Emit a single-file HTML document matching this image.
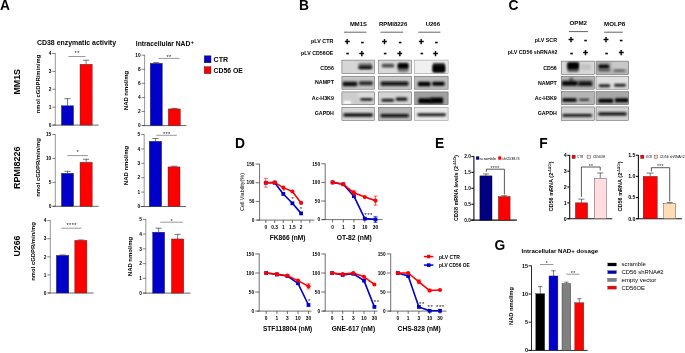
<!DOCTYPE html><html><head><meta charset="utf-8"><title>Figure</title>
<style>html,body{margin:0;padding:0;background:#fff}svg{display:block;filter:blur(0.2px)}text{font-family:'Liberation Sans', Arial, sans-serif}</style></head><body>
<svg width="685" height="353" viewBox="0 0 685 353">
<defs><filter id="b1" x="-20%" y="-50%" width="140%" height="200%"><feGaussianBlur stdDeviation="0.9 0.8"/></filter><filter id="b2" x="-20%" y="-50%" width="140%" height="200%"><feGaussianBlur stdDeviation="1.3 1.1"/></filter></defs>
<rect width="685" height="353" fill="#fff"/>
<text x="0.00" y="9.60" font-size="13.8" text-anchor="start" fill="#000" font-weight="bold" >A</text>
<text x="298.90" y="9.70" font-size="13.8" text-anchor="start" fill="#000" font-weight="bold" >B</text>
<text x="508.40" y="9.80" font-size="13.8" text-anchor="start" fill="#000" font-weight="bold" >C</text>
<text x="234.90" y="147.90" font-size="13.8" text-anchor="start" fill="#000" font-weight="bold" >D</text>
<text x="435.00" y="147.90" font-size="13.8" text-anchor="start" fill="#000" font-weight="bold" >E</text>
<text x="539.30" y="147.90" font-size="13.8" text-anchor="start" fill="#000" font-weight="bold" >F</text>
<text x="494.40" y="249.80" font-size="13.8" text-anchor="start" fill="#000" font-weight="bold" >G</text>
<text x="37.00" y="45.20" font-size="7" text-anchor="start" fill="#000" font-weight="bold" textLength="79.00" lengthAdjust="spacingAndGlyphs" >CD38 enzymatic activity</text>
<text x="135.80" y="46.10" font-size="7" text-anchor="start" fill="#000" font-weight="bold" textLength="54.50" lengthAdjust="spacingAndGlyphs" >Intracellular NAD</text>
<text x="190.60" y="43.60" font-size="6" text-anchor="start" fill="#000" font-weight="bold" >+</text>
<rect x="204.20" y="55.80" width="6.80" height="7.00" fill="#0000c8" stroke="#222" stroke-width="0.4" />
<rect x="204.20" y="66.70" width="6.80" height="7.00" fill="#ff0000" stroke="#222" stroke-width="0.4" />
<text x="213.60" y="62.20" font-size="7" text-anchor="start" fill="#000" font-weight="bold" textLength="14.60" lengthAdjust="spacingAndGlyphs" >CTR</text>
<text x="213.60" y="72.90" font-size="7" text-anchor="start" fill="#000" font-weight="bold" textLength="29.20" lengthAdjust="spacingAndGlyphs" >CD56 OE</text>
<text x="20.10" y="81.80" font-size="9.1" text-anchor="middle" fill="#000" font-weight="bold" textLength="25.60" lengthAdjust="spacingAndGlyphs" transform="rotate(-90 20.10 81.80)" >MM1S</text>
<text x="20.30" y="167.80" font-size="9.1" text-anchor="middle" fill="#000" font-weight="bold" textLength="42.40" lengthAdjust="spacingAndGlyphs" transform="rotate(-90 20.30 167.80)" >RPMI8226</text>
<text x="20.30" y="246.00" font-size="9.1" text-anchor="middle" fill="#000" font-weight="bold" textLength="21.00" lengthAdjust="spacingAndGlyphs" transform="rotate(-90 20.30 246.00)" >U266</text>
<text x="39.90" y="84.00" font-size="6.2" text-anchor="middle" fill="#000" font-weight="bold" textLength="58.50" lengthAdjust="spacingAndGlyphs" transform="rotate(-90 39.90 84.00)" >nmol cGDPR/min/mg</text>
<text x="39.90" y="167.50" font-size="6.2" text-anchor="middle" fill="#000" font-weight="bold" textLength="58.50" lengthAdjust="spacingAndGlyphs" transform="rotate(-90 39.90 167.50)" >nmol cGDPR/min/mg</text>
<text x="35.10" y="251.50" font-size="6.2" text-anchor="middle" fill="#000" font-weight="bold" textLength="58.50" lengthAdjust="spacingAndGlyphs" transform="rotate(-90 35.10 251.50)" >nmol cGDPR/min/mg</text>
<text x="127.50" y="90.50" font-size="6.2" text-anchor="middle" fill="#000" font-weight="bold" textLength="39.30" lengthAdjust="spacingAndGlyphs" transform="rotate(-90 127.50 90.50)" >NAD nmol/mg</text>
<text x="127.90" y="165.50" font-size="6.2" text-anchor="middle" fill="#000" font-weight="bold" textLength="39.30" lengthAdjust="spacingAndGlyphs" transform="rotate(-90 127.90 165.50)" >NAD nmol/mg</text>
<text x="131.80" y="256.50" font-size="6.2" text-anchor="middle" fill="#000" font-weight="bold" textLength="39.30" lengthAdjust="spacingAndGlyphs" transform="rotate(-90 131.80 256.50)" >NAD nmol/mg</text>
<line x1="55.30" y1="53.20" x2="55.30" y2="125.40" stroke="#8a8a8a" stroke-width="0.9"/>
<line x1="52.70" y1="125.10" x2="98.60" y2="125.10" stroke="#555" stroke-width="0.9"/>
<line x1="52.30" y1="125.10" x2="55.30" y2="125.10" stroke="#333" stroke-width="0.6"/>
<text x="51.30" y="126.83" font-size="4.8" text-anchor="end" fill="#000" font-weight="bold" >0</text>
<line x1="52.30" y1="107.20" x2="55.30" y2="107.20" stroke="#333" stroke-width="0.6"/>
<text x="51.30" y="108.93" font-size="4.8" text-anchor="end" fill="#000" font-weight="bold" >1</text>
<line x1="52.30" y1="89.30" x2="55.30" y2="89.30" stroke="#333" stroke-width="0.6"/>
<text x="51.30" y="91.03" font-size="4.8" text-anchor="end" fill="#000" font-weight="bold" >2</text>
<line x1="52.30" y1="71.40" x2="55.30" y2="71.40" stroke="#333" stroke-width="0.6"/>
<text x="51.30" y="73.13" font-size="4.8" text-anchor="end" fill="#000" font-weight="bold" >3</text>
<line x1="52.30" y1="53.50" x2="55.30" y2="53.50" stroke="#333" stroke-width="0.6"/>
<text x="51.30" y="55.23" font-size="4.8" text-anchor="end" fill="#000" font-weight="bold" >4</text>
<line x1="67.50" y1="105.77" x2="67.50" y2="98.67" stroke="#222" stroke-width="0.6"/>
<line x1="64.45" y1="98.67" x2="70.55" y2="98.67" stroke="#222" stroke-width="0.6"/>
<rect x="61.40" y="105.77" width="12.20" height="19.33" fill="#0000c8" stroke="#333" stroke-width="0.4" />
<line x1="86.10" y1="64.24" x2="86.10" y2="60.24" stroke="#222" stroke-width="0.6"/>
<line x1="83.05" y1="60.24" x2="89.15" y2="60.24" stroke="#222" stroke-width="0.6"/>
<rect x="80.00" y="64.24" width="12.20" height="60.86" fill="#ff0000" stroke="#333" stroke-width="0.4" />
<line x1="68.40" y1="56.50" x2="85.50" y2="56.50" stroke="#333" stroke-width="0.5"/>
<text x="77.15" y="54.60" font-size="5.6" text-anchor="middle" fill="#111" letter-spacing="0.4">**</text>
<line x1="55.30" y1="134.22" x2="55.30" y2="206.60" stroke="#8a8a8a" stroke-width="0.9"/>
<line x1="52.70" y1="206.30" x2="98.60" y2="206.30" stroke="#555" stroke-width="0.9"/>
<line x1="52.30" y1="206.30" x2="55.30" y2="206.30" stroke="#333" stroke-width="0.6"/>
<text x="51.30" y="208.03" font-size="4.8" text-anchor="end" fill="#000" font-weight="bold" >0</text>
<line x1="52.30" y1="182.38" x2="55.30" y2="182.38" stroke="#333" stroke-width="0.6"/>
<text x="51.30" y="184.10" font-size="4.8" text-anchor="end" fill="#000" font-weight="bold" >5</text>
<line x1="52.30" y1="158.45" x2="55.30" y2="158.45" stroke="#333" stroke-width="0.6"/>
<text x="51.30" y="160.18" font-size="4.8" text-anchor="end" fill="#000" font-weight="bold" >10</text>
<line x1="52.30" y1="134.53" x2="55.30" y2="134.53" stroke="#333" stroke-width="0.6"/>
<text x="51.30" y="136.25" font-size="4.8" text-anchor="end" fill="#000" font-weight="bold" >15</text>
<line x1="67.50" y1="173.28" x2="67.50" y2="171.28" stroke="#222" stroke-width="0.6"/>
<line x1="64.45" y1="171.28" x2="70.55" y2="171.28" stroke="#222" stroke-width="0.6"/>
<rect x="61.40" y="173.28" width="12.20" height="33.02" fill="#0000c8" stroke="#333" stroke-width="0.4" />
<line x1="86.10" y1="162.28" x2="86.10" y2="159.28" stroke="#222" stroke-width="0.6"/>
<line x1="83.05" y1="159.28" x2="89.15" y2="159.28" stroke="#222" stroke-width="0.6"/>
<rect x="80.00" y="162.28" width="12.20" height="44.02" fill="#ff0000" stroke="#333" stroke-width="0.4" />
<line x1="67.40" y1="155.60" x2="88.00" y2="155.60" stroke="#333" stroke-width="0.5"/>
<text x="77.90" y="153.70" font-size="5.6" text-anchor="middle" fill="#111" letter-spacing="0.4">*</text>
<line x1="50.30" y1="220.30" x2="50.30" y2="293.30" stroke="#8a8a8a" stroke-width="0.9"/>
<line x1="47.90" y1="293.00" x2="93.60" y2="293.00" stroke="#555" stroke-width="0.9"/>
<line x1="47.30" y1="293.00" x2="50.30" y2="293.00" stroke="#333" stroke-width="0.6"/>
<text x="46.30" y="294.73" font-size="4.8" text-anchor="end" fill="#000" font-weight="bold" >0</text>
<line x1="47.30" y1="274.90" x2="50.30" y2="274.90" stroke="#333" stroke-width="0.6"/>
<text x="46.30" y="276.63" font-size="4.8" text-anchor="end" fill="#000" font-weight="bold" >1</text>
<line x1="47.30" y1="256.80" x2="50.30" y2="256.80" stroke="#333" stroke-width="0.6"/>
<text x="46.30" y="258.53" font-size="4.8" text-anchor="end" fill="#000" font-weight="bold" >2</text>
<line x1="47.30" y1="238.70" x2="50.30" y2="238.70" stroke="#333" stroke-width="0.6"/>
<text x="46.30" y="240.43" font-size="4.8" text-anchor="end" fill="#000" font-weight="bold" >3</text>
<line x1="47.30" y1="220.60" x2="50.30" y2="220.60" stroke="#333" stroke-width="0.6"/>
<text x="46.30" y="222.33" font-size="4.8" text-anchor="end" fill="#000" font-weight="bold" >4</text>
<line x1="62.55" y1="255.35" x2="62.55" y2="254.95" stroke="#222" stroke-width="0.6"/>
<line x1="59.42" y1="254.95" x2="65.67" y2="254.95" stroke="#222" stroke-width="0.6"/>
<rect x="56.30" y="255.35" width="12.50" height="37.65" fill="#0000c8" stroke="#333" stroke-width="0.4" />
<line x1="80.85" y1="240.33" x2="80.85" y2="239.93" stroke="#222" stroke-width="0.6"/>
<line x1="77.82" y1="239.93" x2="83.88" y2="239.93" stroke="#222" stroke-width="0.6"/>
<rect x="74.80" y="240.33" width="12.10" height="52.67" fill="#ff0000" stroke="#333" stroke-width="0.4" />
<line x1="61.40" y1="228.20" x2="81.50" y2="228.20" stroke="#333" stroke-width="0.5"/>
<text x="71.65" y="227.10" font-size="5.6" text-anchor="middle" fill="#111" letter-spacing="0.4">****</text>
<line x1="144.60" y1="54.90" x2="144.60" y2="125.90" stroke="#8a8a8a" stroke-width="0.9"/>
<line x1="142.20" y1="125.60" x2="186.50" y2="125.60" stroke="#555" stroke-width="0.9"/>
<line x1="141.60" y1="125.60" x2="144.60" y2="125.60" stroke="#333" stroke-width="0.6"/>
<text x="140.60" y="127.33" font-size="4.8" text-anchor="end" fill="#000" font-weight="bold" >0</text>
<line x1="141.60" y1="111.52" x2="144.60" y2="111.52" stroke="#333" stroke-width="0.6"/>
<text x="140.60" y="113.25" font-size="4.8" text-anchor="end" fill="#000" font-weight="bold" >2</text>
<line x1="141.60" y1="97.44" x2="144.60" y2="97.44" stroke="#333" stroke-width="0.6"/>
<text x="140.60" y="99.17" font-size="4.8" text-anchor="end" fill="#000" font-weight="bold" >4</text>
<line x1="141.60" y1="83.36" x2="144.60" y2="83.36" stroke="#333" stroke-width="0.6"/>
<text x="140.60" y="85.09" font-size="4.8" text-anchor="end" fill="#000" font-weight="bold" >6</text>
<line x1="141.60" y1="69.28" x2="144.60" y2="69.28" stroke="#333" stroke-width="0.6"/>
<text x="140.60" y="71.01" font-size="4.8" text-anchor="end" fill="#000" font-weight="bold" >8</text>
<line x1="141.60" y1="55.20" x2="144.60" y2="55.20" stroke="#333" stroke-width="0.6"/>
<text x="140.60" y="56.93" font-size="4.8" text-anchor="end" fill="#000" font-weight="bold" >10</text>
<line x1="156.25" y1="63.30" x2="156.25" y2="62.60" stroke="#222" stroke-width="0.6"/>
<line x1="153.22" y1="62.60" x2="159.28" y2="62.60" stroke="#222" stroke-width="0.6"/>
<rect x="150.20" y="63.30" width="12.10" height="62.30" fill="#0000c8" stroke="#333" stroke-width="0.4" />
<line x1="174.35" y1="108.92" x2="174.35" y2="108.32" stroke="#222" stroke-width="0.6"/>
<line x1="171.33" y1="108.32" x2="177.38" y2="108.32" stroke="#222" stroke-width="0.6"/>
<rect x="168.30" y="108.92" width="12.10" height="16.68" fill="#ff0000" stroke="#333" stroke-width="0.4" />
<line x1="158.30" y1="58.40" x2="179.40" y2="58.40" stroke="#333" stroke-width="0.5"/>
<text x="169.05" y="58.50" font-size="5.6" text-anchor="middle" fill="#111" letter-spacing="0.4">**</text>
<line x1="144.20" y1="134.20" x2="144.20" y2="206.80" stroke="#8a8a8a" stroke-width="0.9"/>
<line x1="140.60" y1="206.50" x2="186.00" y2="206.50" stroke="#555" stroke-width="0.9"/>
<line x1="141.20" y1="206.50" x2="144.20" y2="206.50" stroke="#333" stroke-width="0.6"/>
<text x="140.20" y="208.23" font-size="4.8" text-anchor="end" fill="#000" font-weight="bold" >0</text>
<line x1="141.20" y1="192.10" x2="144.20" y2="192.10" stroke="#333" stroke-width="0.6"/>
<text x="140.20" y="193.83" font-size="4.8" text-anchor="end" fill="#000" font-weight="bold" >1</text>
<line x1="141.20" y1="177.70" x2="144.20" y2="177.70" stroke="#333" stroke-width="0.6"/>
<text x="140.20" y="179.43" font-size="4.8" text-anchor="end" fill="#000" font-weight="bold" >2</text>
<line x1="141.20" y1="163.30" x2="144.20" y2="163.30" stroke="#333" stroke-width="0.6"/>
<text x="140.20" y="165.03" font-size="4.8" text-anchor="end" fill="#000" font-weight="bold" >3</text>
<line x1="141.20" y1="148.90" x2="144.20" y2="148.90" stroke="#333" stroke-width="0.6"/>
<text x="140.20" y="150.63" font-size="4.8" text-anchor="end" fill="#000" font-weight="bold" >4</text>
<line x1="141.20" y1="134.50" x2="144.20" y2="134.50" stroke="#333" stroke-width="0.6"/>
<text x="140.20" y="136.23" font-size="4.8" text-anchor="end" fill="#000" font-weight="bold" >5</text>
<line x1="155.45" y1="141.27" x2="155.45" y2="138.47" stroke="#222" stroke-width="0.6"/>
<line x1="152.32" y1="138.47" x2="158.57" y2="138.47" stroke="#222" stroke-width="0.6"/>
<rect x="149.20" y="141.27" width="12.50" height="65.23" fill="#0000c8" stroke="#333" stroke-width="0.4" />
<line x1="174.00" y1="166.90" x2="174.00" y2="166.20" stroke="#222" stroke-width="0.6"/>
<line x1="171.00" y1="166.20" x2="177.00" y2="166.20" stroke="#222" stroke-width="0.6"/>
<rect x="168.00" y="166.90" width="12.00" height="39.60" fill="#ff0000" stroke="#333" stroke-width="0.4" />
<line x1="156.30" y1="135.30" x2="176.80" y2="135.30" stroke="#333" stroke-width="0.5"/>
<text x="166.75" y="136.20" font-size="5.6" text-anchor="middle" fill="#111" letter-spacing="0.4">***</text>
<line x1="145.80" y1="219.05" x2="145.80" y2="293.40" stroke="#8a8a8a" stroke-width="0.9"/>
<line x1="143.20" y1="293.10" x2="190.50" y2="293.10" stroke="#555" stroke-width="0.9"/>
<line x1="142.80" y1="293.10" x2="145.80" y2="293.10" stroke="#333" stroke-width="0.6"/>
<text x="141.80" y="294.83" font-size="4.8" text-anchor="end" fill="#000" font-weight="bold" >0</text>
<line x1="142.80" y1="278.35" x2="145.80" y2="278.35" stroke="#333" stroke-width="0.6"/>
<text x="141.80" y="280.08" font-size="4.8" text-anchor="end" fill="#000" font-weight="bold" >1</text>
<line x1="142.80" y1="263.60" x2="145.80" y2="263.60" stroke="#333" stroke-width="0.6"/>
<text x="141.80" y="265.33" font-size="4.8" text-anchor="end" fill="#000" font-weight="bold" >2</text>
<line x1="142.80" y1="248.85" x2="145.80" y2="248.85" stroke="#333" stroke-width="0.6"/>
<text x="141.80" y="250.58" font-size="4.8" text-anchor="end" fill="#000" font-weight="bold" >3</text>
<line x1="142.80" y1="234.10" x2="145.80" y2="234.10" stroke="#333" stroke-width="0.6"/>
<text x="141.80" y="235.83" font-size="4.8" text-anchor="end" fill="#000" font-weight="bold" >4</text>
<line x1="142.80" y1="219.35" x2="145.80" y2="219.35" stroke="#333" stroke-width="0.6"/>
<text x="141.80" y="221.08" font-size="4.8" text-anchor="end" fill="#000" font-weight="bold" >5</text>
<line x1="158.65" y1="232.18" x2="158.65" y2="228.18" stroke="#222" stroke-width="0.6"/>
<line x1="155.62" y1="228.18" x2="161.67" y2="228.18" stroke="#222" stroke-width="0.6"/>
<rect x="152.60" y="232.18" width="12.10" height="60.92" fill="#0000c8" stroke="#333" stroke-width="0.4" />
<line x1="177.60" y1="238.97" x2="177.60" y2="234.37" stroke="#222" stroke-width="0.6"/>
<line x1="174.50" y1="234.37" x2="180.70" y2="234.37" stroke="#222" stroke-width="0.6"/>
<rect x="171.40" y="238.97" width="12.40" height="54.13" fill="#ff0000" stroke="#333" stroke-width="0.4" />
<line x1="160.30" y1="222.20" x2="182.80" y2="222.20" stroke="#333" stroke-width="0.5"/>
<text x="171.75" y="222.70" font-size="5.6" text-anchor="middle" fill="#111" letter-spacing="0.4">*</text>
<text x="350.00" y="26.20" font-size="6" text-anchor="start" fill="#000" font-weight="bold" textLength="16.90" lengthAdjust="spacingAndGlyphs" >MM1S</text>
<text x="378.90" y="26.20" font-size="6" text-anchor="start" fill="#000" font-weight="bold" textLength="28.40" lengthAdjust="spacingAndGlyphs" >RPMI8226</text>
<text x="425.70" y="26.20" font-size="6" text-anchor="start" fill="#000" font-weight="bold" textLength="14.30" lengthAdjust="spacingAndGlyphs" >U266</text>
<line x1="343.90" y1="32.20" x2="366.50" y2="32.20" stroke="#222" stroke-width="0.7"/>
<line x1="380.50" y1="32.20" x2="403.10" y2="32.20" stroke="#222" stroke-width="0.7"/>
<line x1="418.30" y1="32.20" x2="440.40" y2="32.20" stroke="#222" stroke-width="0.7"/>
<text x="333.30" y="43.30" font-size="5.3" text-anchor="end" fill="#000" font-weight="bold" textLength="22.20" lengthAdjust="spacingAndGlyphs" >pLV CTR</text>
<text x="333.30" y="54.90" font-size="5.3" text-anchor="end" fill="#000" font-weight="bold" textLength="32.20" lengthAdjust="spacingAndGlyphs" >pLV CD56OE</text>
<text x="347.30" y="44.90" font-size="8.6" text-anchor="middle" fill="#000" font-weight="bold" stroke="#000" stroke-width="0.45">+</text>
<text x="362.40" y="44.70" font-size="8.2" text-anchor="middle" fill="#000" font-weight="bold" stroke="#000" stroke-width="0.45">-</text>
<text x="384.60" y="44.90" font-size="8.6" text-anchor="middle" fill="#000" font-weight="bold" stroke="#000" stroke-width="0.45">+</text>
<text x="400.10" y="44.70" font-size="8.2" text-anchor="middle" fill="#000" font-weight="bold" stroke="#000" stroke-width="0.45">-</text>
<text x="421.30" y="44.90" font-size="8.6" text-anchor="middle" fill="#000" font-weight="bold" stroke="#000" stroke-width="0.45">+</text>
<text x="436.40" y="44.70" font-size="8.2" text-anchor="middle" fill="#000" font-weight="bold" stroke="#000" stroke-width="0.45">-</text>
<text x="347.70" y="56.30" font-size="8.2" text-anchor="middle" fill="#000" font-weight="bold" stroke="#000" stroke-width="0.45">-</text>
<text x="361.80" y="56.50" font-size="8.6" text-anchor="middle" fill="#000" font-weight="bold" stroke="#000" stroke-width="0.45">+</text>
<text x="385.00" y="56.30" font-size="8.2" text-anchor="middle" fill="#000" font-weight="bold" stroke="#000" stroke-width="0.45">-</text>
<text x="399.70" y="56.50" font-size="8.6" text-anchor="middle" fill="#000" font-weight="bold" stroke="#000" stroke-width="0.45">+</text>
<text x="421.90" y="56.30" font-size="8.2" text-anchor="middle" fill="#000" font-weight="bold" stroke="#000" stroke-width="0.45">-</text>
<text x="435.40" y="56.50" font-size="8.6" text-anchor="middle" fill="#000" font-weight="bold" stroke="#000" stroke-width="0.45">+</text>
<text x="333.90" y="69.70" font-size="5.3" text-anchor="end" fill="#000" font-weight="bold" >CD56</text>
<text x="333.90" y="84.20" font-size="5.3" text-anchor="end" fill="#000" font-weight="bold" >NAMPT</text>
<text x="333.90" y="99.90" font-size="5.3" text-anchor="end" fill="#000" font-weight="bold" >Ac-H3K9</text>
<text x="333.90" y="115.00" font-size="5.3" text-anchor="end" fill="#000" font-weight="bold" >GAPDH</text>
<rect x="341.90" y="60.10" width="32.60" height="13.60" fill="#d6d6d6" />
<clipPath id="c3419_601"><rect x="341.90" y="60.10" width="32.60" height="13.60"/></clipPath><g clip-path="url(#c3419_601)">
<rect x="358.65" y="62.99" width="13.45" height="5.97" rx="1.2" fill="#777" filter="url(#b1)"/>
<rect x="358.65" y="65.89" width="13.45" height="3.07" rx="1.2" fill="#0a0a0a" filter="url(#b1)"/>
</g>
<rect x="341.90" y="60.10" width="32.60" height="13.60" fill="none" stroke="#555" stroke-width="0.5" />
<rect x="341.90" y="76.20" width="32.60" height="13.00" fill="#c6c6c6" />
<clipPath id="c3419_762"><rect x="341.90" y="76.20" width="32.60" height="13.00"/></clipPath><g clip-path="url(#c3419_762)">
<rect x="342.34" y="80.75" width="15.26" height="5.97" rx="1.2" fill="#888" filter="url(#b2)"/>
<rect x="358.65" y="80.38" width="14.54" height="5.61" rx="1.2" fill="#999" filter="url(#b2)"/>
<rect x="342.88" y="82.20" width="14.17" height="3.44" rx="1.2" fill="#050505" filter="url(#b1)"/>
<rect x="359.19" y="81.65" width="13.27" height="3.07" rx="1.2" fill="#1a1a1a" filter="url(#b1)"/>
</g>
<rect x="341.90" y="76.20" width="32.60" height="13.00" fill="none" stroke="#555" stroke-width="0.5" />
<rect x="341.90" y="91.90" width="32.60" height="12.80" fill="#cdcdcd" />
<clipPath id="c3419_919"><rect x="341.90" y="91.90" width="32.60" height="12.80"/></clipPath><g clip-path="url(#c3419_919)">
<rect x="360.46" y="97.42" width="12.00" height="3.07" rx="1.2" fill="#0c0c0c" filter="url(#b1)"/>
<rect x="343.42" y="101.04" width="7.65" height="3.26" rx="1.2" fill="#fff" filter="url(#b1)"/>
<rect x="357.92" y="91.62" width="16.71" height="5.79" rx="1.2" fill="#dadada" filter="url(#b2)"/>
</g>
<rect x="341.90" y="91.90" width="32.60" height="12.80" fill="none" stroke="#555" stroke-width="0.5" />
<rect x="341.90" y="107.30" width="32.60" height="13.10" fill="#d6d6d6" />
<clipPath id="c3419_1073"><rect x="341.90" y="107.30" width="32.60" height="13.10"/></clipPath><g clip-path="url(#c3419_1073)">
<rect x="343.42" y="113.19" width="29.40" height="3.44" rx="1.2" fill="#0a0a0a" filter="url(#b1)"/>
</g>
<rect x="341.90" y="107.30" width="32.60" height="13.10" fill="none" stroke="#555" stroke-width="0.5" />
<rect x="378.50" y="60.10" width="33.20" height="13.60" fill="#dadada" />
<clipPath id="c3785_601"><rect x="378.50" y="60.10" width="33.20" height="13.60"/></clipPath><g clip-path="url(#c3785_601)">
<rect x="381.84" y="63.71" width="12.36" height="3.80" rx="1.2" fill="#4a4a4a" filter="url(#b1)"/>
<rect x="397.79" y="63.35" width="10.55" height="8.87" rx="1.2" fill="#777" filter="url(#b1)"/>
<rect x="397.79" y="63.35" width="10.55" height="5.25" rx="1.2" fill="#050505" filter="url(#b1)"/>
</g>
<rect x="378.50" y="60.10" width="33.20" height="13.60" fill="none" stroke="#555" stroke-width="0.5" />
<rect x="378.50" y="76.20" width="33.20" height="13.00" fill="#c8c8c8" />
<clipPath id="c3785_762"><rect x="378.50" y="76.20" width="33.20" height="13.00"/></clipPath><g clip-path="url(#c3785_762)">
<rect x="380.39" y="80.38" width="28.31" height="6.34" rx="1.2" fill="#aaa" filter="url(#b2)"/>
<rect x="380.76" y="81.83" width="27.58" height="3.62" rx="1.2" fill="#0a0a0a" filter="url(#b1)"/>
</g>
<rect x="378.50" y="76.20" width="33.20" height="13.00" fill="none" stroke="#555" stroke-width="0.5" />
<rect x="378.50" y="91.90" width="33.20" height="12.80" fill="#d4d4d4" />
<clipPath id="c3785_919"><rect x="378.50" y="91.90" width="33.20" height="12.80"/></clipPath><g clip-path="url(#c3785_919)">
<rect x="381.48" y="98.69" width="12.54" height="3.07" rx="1.2" fill="#1c1c1c" filter="url(#b1)"/>
<rect x="395.80" y="97.42" width="11.45" height="3.44" rx="1.2" fill="#141414" filter="url(#b1)"/>
</g>
<rect x="378.50" y="91.90" width="33.20" height="12.80" fill="none" stroke="#555" stroke-width="0.5" />
<rect x="378.50" y="107.30" width="33.20" height="13.10" fill="#b6b6b6" />
<clipPath id="c3785_1073"><rect x="378.50" y="107.30" width="33.20" height="13.10"/></clipPath><g clip-path="url(#c3785_1073)">
<rect x="380.58" y="113.91" width="28.13" height="3.26" rx="1.2" fill="#080808" filter="url(#b1)"/>
</g>
<rect x="378.50" y="107.30" width="33.20" height="13.10" fill="none" stroke="#555" stroke-width="0.5" />
<rect x="414.70" y="60.10" width="33.40" height="13.60" fill="#f0f0f0" />
<clipPath id="c4147_601"><rect x="414.70" y="60.10" width="33.40" height="13.60"/></clipPath><g clip-path="url(#c4147_601)">
<rect x="432.77" y="62.99" width="12.18" height="9.24" rx="1.2" fill="#333" filter="url(#b2)"/>
<rect x="432.77" y="65.16" width="12.18" height="7.06" rx="1.2" fill="#000" filter="url(#b1)"/>
</g>
<rect x="414.70" y="60.10" width="33.40" height="13.60" fill="none" stroke="#888" stroke-width="0.5" />
<rect x="414.70" y="76.20" width="33.40" height="13.00" fill="#bcbcbc" />
<clipPath id="c4147_762"><rect x="414.70" y="76.20" width="33.40" height="13.00"/></clipPath><g clip-path="url(#c4147_762)">
<rect x="417.91" y="81.83" width="12.54" height="4.52" rx="1.2" fill="#000" filter="url(#b1)"/>
<rect x="432.22" y="81.83" width="12.36" height="3.98" rx="1.2" fill="#000" filter="url(#b1)"/>
</g>
<rect x="414.70" y="76.20" width="33.40" height="13.00" fill="none" stroke="#555" stroke-width="0.5" />
<rect x="414.70" y="91.90" width="33.40" height="12.80" fill="#a0a0a0" />
<clipPath id="c4147_919"><rect x="414.70" y="91.90" width="33.40" height="12.80"/></clipPath><g clip-path="url(#c4147_919)">
<rect x="418.45" y="98.33" width="13.27" height="5.25" rx="1.2" fill="#000" filter="url(#b1)"/>
<rect x="430.41" y="97.42" width="12.72" height="6.16" rx="1.2" fill="#000" filter="url(#b1)"/>
</g>
<rect x="414.70" y="91.90" width="33.40" height="12.80" fill="none" stroke="#555" stroke-width="0.5" />
<rect x="414.70" y="107.30" width="33.40" height="13.10" fill="#e8e8e8" />
<clipPath id="c4147_1073"><rect x="414.70" y="107.30" width="33.40" height="13.10"/></clipPath><g clip-path="url(#c4147_1073)">
<rect x="417.36" y="113.19" width="28.49" height="3.07" rx="1.2" fill="#1a1a1a" filter="url(#b1)"/>
</g>
<rect x="414.70" y="107.30" width="33.40" height="13.10" fill="none" stroke="#888" stroke-width="0.5" />
<text x="569.50" y="25.20" font-size="6.1" text-anchor="start" fill="#000" font-weight="bold" textLength="17.50" lengthAdjust="spacingAndGlyphs" >OPM2</text>
<text x="604.10" y="25.80" font-size="6.1" text-anchor="start" fill="#000" font-weight="bold" textLength="21.10" lengthAdjust="spacingAndGlyphs" >MOLP8</text>
<line x1="568.90" y1="31.60" x2="588.00" y2="31.60" stroke="#222" stroke-width="0.7"/>
<line x1="604.10" y1="32.20" x2="622.80" y2="32.20" stroke="#222" stroke-width="0.7"/>
<text x="557.00" y="41.60" font-size="5.3" text-anchor="end" fill="#000" font-weight="bold" textLength="22.30" lengthAdjust="spacingAndGlyphs" >pLV SCR</text>
<text x="557.40" y="54.30" font-size="5.3" text-anchor="end" fill="#000" font-weight="bold" textLength="49.70" lengthAdjust="spacingAndGlyphs" >pLV CD56 shRNA#2</text>
<text x="571.10" y="43.40" font-size="8.6" text-anchor="middle" fill="#000" font-weight="bold" stroke="#000" stroke-width="0.45">+</text>
<text x="585.60" y="43.20" font-size="8.2" text-anchor="middle" fill="#000" font-weight="bold" stroke="#000" stroke-width="0.45">-</text>
<text x="606.10" y="43.40" font-size="8.6" text-anchor="middle" fill="#000" font-weight="bold" stroke="#000" stroke-width="0.45">+</text>
<text x="621.20" y="43.20" font-size="8.2" text-anchor="middle" fill="#000" font-weight="bold" stroke="#000" stroke-width="0.45">-</text>
<text x="571.50" y="55.70" font-size="8.2" text-anchor="middle" fill="#000" font-weight="bold" stroke="#000" stroke-width="0.45">-</text>
<text x="585.60" y="55.90" font-size="8.6" text-anchor="middle" fill="#000" font-weight="bold" stroke="#000" stroke-width="0.45">+</text>
<text x="606.70" y="55.70" font-size="8.2" text-anchor="middle" fill="#000" font-weight="bold" stroke="#000" stroke-width="0.45">-</text>
<text x="621.20" y="55.90" font-size="8.6" text-anchor="middle" fill="#000" font-weight="bold" stroke="#000" stroke-width="0.45">+</text>
<text x="556.80" y="69.70" font-size="5.3" text-anchor="end" fill="#000" font-weight="bold" >CD56</text>
<text x="556.80" y="84.60" font-size="5.3" text-anchor="end" fill="#000" font-weight="bold" >NAMPT</text>
<text x="556.80" y="99.90" font-size="5.3" text-anchor="end" fill="#000" font-weight="bold" >Ac-H3K9</text>
<text x="556.80" y="115.40" font-size="5.3" text-anchor="end" fill="#000" font-weight="bold" >GAPDH</text>
<rect x="561.20" y="61.10" width="33.20" height="13.40" fill="#d8d8d8" />
<clipPath id="c5612_611"><rect x="561.20" y="61.10" width="33.20" height="13.40"/></clipPath><g clip-path="url(#c5612_611)">
<rect x="567.50" y="62.45" width="11.28" height="9.43" rx="1.2" fill="#555" filter="url(#b2)"/>
<rect x="567.50" y="62.45" width="11.28" height="6.52" rx="1.2" fill="#000" filter="url(#b1)"/>
<rect x="580.56" y="64.08" width="10.56" height="5.98" rx="1.2" fill="#c2c2c2" filter="url(#b2)"/>
</g>
<rect x="561.20" y="61.10" width="33.20" height="13.40" fill="none" stroke="#555" stroke-width="0.5" />
<rect x="561.20" y="76.20" width="33.20" height="13.00" fill="#b8b8b8" />
<clipPath id="c5612_762"><rect x="561.20" y="76.20" width="33.20" height="13.00"/></clipPath><g clip-path="url(#c5612_762)">
<rect x="561.33" y="79.32" width="31.96" height="7.79" rx="1.2" fill="#909090" filter="url(#b2)"/>
<rect x="569.31" y="77.87" width="4.03" height="4.53" rx="1.2" fill="#555" filter="url(#b2)"/>
<rect x="562.06" y="81.13" width="15.46" height="4.35" rx="1.2" fill="#050505" filter="url(#b1)"/>
<rect x="578.38" y="81.50" width="13.64" height="4.35" rx="1.2" fill="#0a0a0a" filter="url(#b1)"/>
</g>
<rect x="561.20" y="76.20" width="33.20" height="13.00" fill="none" stroke="#555" stroke-width="0.5" />
<rect x="561.20" y="91.60" width="33.20" height="13.10" fill="#b4b4b4" />
<clipPath id="c5612_916"><rect x="561.20" y="91.60" width="33.20" height="13.10"/></clipPath><g clip-path="url(#c5612_916)">
<rect x="562.42" y="98.18" width="14.19" height="3.62" rx="1.2" fill="#050505" filter="url(#b1)"/>
<rect x="579.11" y="98.73" width="10.20" height="1.99" rx="1.2" fill="#222" filter="url(#b1)"/>
</g>
<rect x="561.20" y="91.60" width="33.20" height="13.10" fill="none" stroke="#555" stroke-width="0.5" />
<rect x="561.20" y="106.90" width="33.20" height="13.50" fill="#d0d0d0" />
<clipPath id="c5612_1069"><rect x="561.20" y="106.90" width="33.20" height="13.50"/></clipPath><g clip-path="url(#c5612_1069)">
<rect x="562.42" y="113.97" width="29.61" height="2.90" rx="1.2" fill="#0a0a0a" filter="url(#b1)"/>
</g>
<rect x="561.20" y="106.90" width="33.20" height="13.50" fill="none" stroke="#555" stroke-width="0.5" />
<rect x="596.00" y="61.10" width="32.60" height="13.40" fill="#b4b4b4" />
<clipPath id="c5960_611"><rect x="596.00" y="61.10" width="32.60" height="13.40"/></clipPath><g clip-path="url(#c5960_611)">
<rect x="611.94" y="60.27" width="17.63" height="9.06" rx="1.2" fill="#c8c8c8" filter="url(#b2)"/>
<rect x="598.34" y="64.26" width="10.92" height="4.53" rx="1.2" fill="#0c0c0c" filter="url(#b1)"/>
<rect x="598.34" y="68.98" width="11.83" height="2.35" rx="1.2" fill="#4a4a4a" filter="url(#b1)"/>
<rect x="613.58" y="69.52" width="11.65" height="2.35" rx="1.2" fill="#5a5a5a" filter="url(#b1)"/>
</g>
<rect x="596.00" y="61.10" width="32.60" height="13.40" fill="none" stroke="#555" stroke-width="0.5" />
<rect x="596.00" y="76.20" width="32.60" height="13.00" fill="#e0e0e0" />
<clipPath id="c5960_762"><rect x="596.00" y="76.20" width="32.60" height="13.00"/></clipPath><g clip-path="url(#c5960_762)">
<rect x="598.70" y="84.22" width="11.47" height="3.08" rx="1.2" fill="#1c1c1c" filter="url(#b1)"/>
<rect x="614.12" y="83.67" width="11.83" height="3.08" rx="1.2" fill="#222" filter="url(#b1)"/>
</g>
<rect x="596.00" y="76.20" width="32.60" height="13.00" fill="none" stroke="#555" stroke-width="0.5" />
<rect x="596.00" y="91.60" width="32.60" height="13.10" fill="#a8a8a8" />
<clipPath id="c5960_916"><rect x="596.00" y="91.60" width="32.60" height="13.10"/></clipPath><g clip-path="url(#c5960_916)">
<rect x="598.34" y="98.73" width="14.91" height="3.98" rx="1.2" fill="#000" filter="url(#b1)"/>
<rect x="615.03" y="98.18" width="13.46" height="4.17" rx="1.2" fill="#000" filter="url(#b1)"/>
</g>
<rect x="596.00" y="91.60" width="32.60" height="13.10" fill="none" stroke="#555" stroke-width="0.5" />
<rect x="596.00" y="106.90" width="32.60" height="13.50" fill="#d2d2d2" />
<clipPath id="c5960_1069"><rect x="596.00" y="106.90" width="32.60" height="13.50"/></clipPath><g clip-path="url(#c5960_1069)">
<rect x="598.34" y="112.33" width="28.16" height="3.26" rx="1.2" fill="#0a0a0a" filter="url(#b1)"/>
</g>
<rect x="596.00" y="106.90" width="32.60" height="13.50" fill="none" stroke="#555" stroke-width="0.5" />
<text x="244.20" y="192.00" font-size="5.4" text-anchor="middle" fill="#000" textLength="38.00" lengthAdjust="spacingAndGlyphs" transform="rotate(-90 244.20 192.00)" >Cell Viability(%)</text>
<line x1="259.60" y1="163.77" x2="259.60" y2="220.40" stroke="#333" stroke-width="0.7"/>
<line x1="257.20" y1="220.10" x2="314.50" y2="220.10" stroke="#333" stroke-width="0.7"/>
<line x1="255.60" y1="220.10" x2="259.60" y2="220.10" stroke="#333" stroke-width="0.7"/>
<text x="254.40" y="221.80" font-size="4.7" text-anchor="end" fill="#000" font-weight="bold" >0</text>
<line x1="255.60" y1="201.42" x2="259.60" y2="201.42" stroke="#333" stroke-width="0.7"/>
<text x="254.40" y="203.12" font-size="4.7" text-anchor="end" fill="#000" font-weight="bold" >50</text>
<line x1="255.60" y1="182.75" x2="259.60" y2="182.75" stroke="#333" stroke-width="0.7"/>
<text x="254.40" y="184.45" font-size="4.7" text-anchor="end" fill="#000" font-weight="bold" >100</text>
<line x1="255.60" y1="164.07" x2="259.60" y2="164.07" stroke="#333" stroke-width="0.7"/>
<text x="254.40" y="165.77" font-size="4.7" text-anchor="end" fill="#000" font-weight="bold" >150</text>
<line x1="265.80" y1="220.10" x2="265.80" y2="223.00" stroke="#333" stroke-width="0.7"/>
<line x1="274.70" y1="220.10" x2="274.70" y2="223.00" stroke="#333" stroke-width="0.7"/>
<line x1="283.30" y1="220.10" x2="283.30" y2="223.00" stroke="#333" stroke-width="0.7"/>
<line x1="292.40" y1="220.10" x2="292.40" y2="223.00" stroke="#333" stroke-width="0.7"/>
<line x1="301.10" y1="220.10" x2="301.10" y2="223.00" stroke="#333" stroke-width="0.7"/>
<line x1="309.90" y1="220.10" x2="309.90" y2="223.00" stroke="#333" stroke-width="0.7"/>
<text x="265.80" y="229.30" font-size="4.8" text-anchor="middle" fill="#000" font-weight="bold" >0</text>
<text x="274.70" y="229.30" font-size="4.8" text-anchor="middle" fill="#000" font-weight="bold" >0.3</text>
<text x="283.30" y="229.30" font-size="4.8" text-anchor="middle" fill="#000" font-weight="bold" >1</text>
<text x="292.40" y="229.30" font-size="4.8" text-anchor="middle" fill="#000" font-weight="bold" >1.5</text>
<text x="301.10" y="229.30" font-size="4.8" text-anchor="middle" fill="#000" font-weight="bold" >2</text>
<text x="269.70" y="240.40" font-size="6.6" text-anchor="start" fill="#000" font-weight="bold" textLength="35.80" lengthAdjust="spacingAndGlyphs" >FK866 (nM)</text>
<polyline points="265.80,182.75 274.70,182.75 283.30,193.95 292.40,203.29 301.10,213.38" fill="none" stroke="#0000c8" stroke-width="1.6" stroke-linejoin="round"/>
<rect x="263.90" y="180.85" width="3.80" height="3.80" fill="#0000c8" />
<rect x="272.80" y="180.85" width="3.80" height="3.80" fill="#0000c8" />
<rect x="281.40" y="192.05" width="3.80" height="3.80" fill="#0000c8" />
<rect x="290.50" y="201.39" width="3.80" height="3.80" fill="#0000c8" />
<rect x="299.20" y="211.48" width="3.80" height="3.80" fill="#0000c8" />
<line x1="265.80" y1="178.35" x2="265.80" y2="187.15" stroke="#ff0000" stroke-width="0.6"/>
<line x1="263.80" y1="178.35" x2="267.80" y2="178.35" stroke="#ff0000" stroke-width="0.6"/>
<line x1="263.80" y1="187.15" x2="267.80" y2="187.15" stroke="#ff0000" stroke-width="0.6"/>
<polyline points="265.80,182.75 274.70,182.38 283.30,187.61 292.40,191.53 301.10,202.92" fill="none" stroke="#ff0000" stroke-width="1.6" stroke-linejoin="round"/>
<circle cx="265.80" cy="182.75" r="2.05" fill="#ff0000"/>
<circle cx="274.70" cy="182.38" r="2.05" fill="#ff0000"/>
<circle cx="283.30" cy="187.61" r="2.05" fill="#ff0000"/>
<circle cx="292.40" cy="191.53" r="2.05" fill="#ff0000"/>
<circle cx="301.10" cy="202.92" r="2.05" fill="#ff0000"/>
<text x="284.00" y="192.60" font-size="6.2" text-anchor="middle" fill="#111" >*</text>
<text x="292.60" y="201.40" font-size="6.2" text-anchor="middle" fill="#111" >*</text>
<text x="301.00" y="210.60" font-size="6.2" text-anchor="middle" fill="#111" >*</text>
<line x1="325.20" y1="163.50" x2="325.20" y2="219.90" stroke="#333" stroke-width="0.7"/>
<line x1="322.00" y1="219.60" x2="382.50" y2="219.60" stroke="#333" stroke-width="0.7"/>
<line x1="321.20" y1="219.60" x2="325.20" y2="219.60" stroke="#333" stroke-width="0.7"/>
<text x="320.00" y="221.30" font-size="4.7" text-anchor="end" fill="#000" font-weight="bold" >0</text>
<line x1="321.20" y1="201.00" x2="325.20" y2="201.00" stroke="#333" stroke-width="0.7"/>
<text x="320.00" y="202.70" font-size="4.7" text-anchor="end" fill="#000" font-weight="bold" >50</text>
<line x1="321.20" y1="182.40" x2="325.20" y2="182.40" stroke="#333" stroke-width="0.7"/>
<text x="320.00" y="184.10" font-size="4.7" text-anchor="end" fill="#000" font-weight="bold" >100</text>
<line x1="321.20" y1="163.80" x2="325.20" y2="163.80" stroke="#333" stroke-width="0.7"/>
<text x="320.00" y="165.50" font-size="4.7" text-anchor="end" fill="#000" font-weight="bold" >150</text>
<line x1="332.60" y1="219.60" x2="332.60" y2="222.50" stroke="#333" stroke-width="0.7"/>
<line x1="343.30" y1="219.60" x2="343.30" y2="222.50" stroke="#333" stroke-width="0.7"/>
<line x1="353.90" y1="219.60" x2="353.90" y2="222.50" stroke="#333" stroke-width="0.7"/>
<line x1="364.80" y1="219.60" x2="364.80" y2="222.50" stroke="#333" stroke-width="0.7"/>
<line x1="375.50" y1="219.60" x2="375.50" y2="222.50" stroke="#333" stroke-width="0.7"/>
<text x="332.60" y="229.30" font-size="4.8" text-anchor="middle" fill="#000" font-weight="bold" >0</text>
<text x="343.30" y="229.30" font-size="4.8" text-anchor="middle" fill="#000" font-weight="bold" >1</text>
<text x="353.90" y="229.30" font-size="4.8" text-anchor="middle" fill="#000" font-weight="bold" >3</text>
<text x="364.80" y="229.30" font-size="4.8" text-anchor="middle" fill="#000" font-weight="bold" >10</text>
<text x="375.50" y="229.30" font-size="4.8" text-anchor="middle" fill="#000" font-weight="bold" >30</text>
<text x="336.80" y="240.40" font-size="6.6" text-anchor="start" fill="#000" font-weight="bold" textLength="35.00" lengthAdjust="spacingAndGlyphs" >OT-82 (nM)</text>
<line x1="375.50" y1="216.41" x2="375.50" y2="222.41" stroke="#0000c8" stroke-width="0.6"/>
<line x1="373.50" y1="216.41" x2="377.50" y2="216.41" stroke="#0000c8" stroke-width="0.6"/>
<line x1="373.50" y1="222.41" x2="377.50" y2="222.41" stroke="#0000c8" stroke-width="0.6"/>
<polyline points="332.60,182.40 343.30,184.26 353.90,196.16 364.80,218.67 375.50,219.41" fill="none" stroke="#0000c8" stroke-width="1.6" stroke-linejoin="round"/>
<rect x="330.70" y="180.50" width="3.80" height="3.80" fill="#0000c8" />
<rect x="341.40" y="182.36" width="3.80" height="3.80" fill="#0000c8" />
<rect x="352.00" y="194.26" width="3.80" height="3.80" fill="#0000c8" />
<rect x="362.90" y="216.77" width="3.80" height="3.80" fill="#0000c8" />
<rect x="373.60" y="217.51" width="3.80" height="3.80" fill="#0000c8" />
<line x1="353.90" y1="190.42" x2="353.90" y2="195.22" stroke="#ff0000" stroke-width="0.6"/>
<line x1="351.90" y1="190.42" x2="355.90" y2="190.42" stroke="#ff0000" stroke-width="0.6"/>
<line x1="351.90" y1="195.22" x2="355.90" y2="195.22" stroke="#ff0000" stroke-width="0.6"/>
<line x1="375.50" y1="196.13" x2="375.50" y2="205.13" stroke="#ff0000" stroke-width="0.6"/>
<line x1="373.50" y1="196.13" x2="377.50" y2="196.13" stroke="#ff0000" stroke-width="0.6"/>
<line x1="373.50" y1="205.13" x2="377.50" y2="205.13" stroke="#ff0000" stroke-width="0.6"/>
<polyline points="332.60,182.40 343.30,184.26 353.90,192.82 364.80,197.09 375.50,200.63" fill="none" stroke="#ff0000" stroke-width="1.6" stroke-linejoin="round"/>
<circle cx="332.60" cy="182.40" r="2.05" fill="#ff0000"/>
<circle cx="343.30" cy="184.26" r="2.05" fill="#ff0000"/>
<circle cx="353.90" cy="192.82" r="2.05" fill="#ff0000"/>
<circle cx="364.80" cy="197.09" r="2.05" fill="#ff0000"/>
<circle cx="375.50" cy="200.63" r="2.05" fill="#ff0000"/>
<text x="368.60" y="217.40" font-size="6.2" text-anchor="middle" fill="#111" letter-spacing="0.5">***</text>
<line x1="259.20" y1="253.65" x2="259.20" y2="311.40" stroke="#333" stroke-width="0.7"/>
<line x1="257.20" y1="311.10" x2="311.50" y2="311.10" stroke="#333" stroke-width="0.7"/>
<line x1="255.20" y1="311.10" x2="259.20" y2="311.10" stroke="#333" stroke-width="0.7"/>
<text x="254.00" y="312.80" font-size="4.7" text-anchor="end" fill="#000" font-weight="bold" >0</text>
<line x1="255.20" y1="292.05" x2="259.20" y2="292.05" stroke="#333" stroke-width="0.7"/>
<text x="254.00" y="293.75" font-size="4.7" text-anchor="end" fill="#000" font-weight="bold" >50</text>
<line x1="255.20" y1="273.00" x2="259.20" y2="273.00" stroke="#333" stroke-width="0.7"/>
<text x="254.00" y="274.70" font-size="4.7" text-anchor="end" fill="#000" font-weight="bold" >100</text>
<line x1="255.20" y1="253.95" x2="259.20" y2="253.95" stroke="#333" stroke-width="0.7"/>
<text x="254.00" y="255.65" font-size="4.7" text-anchor="end" fill="#000" font-weight="bold" >150</text>
<line x1="266.20" y1="311.10" x2="266.20" y2="314.00" stroke="#333" stroke-width="0.7"/>
<line x1="276.90" y1="311.10" x2="276.90" y2="314.00" stroke="#333" stroke-width="0.7"/>
<line x1="287.40" y1="311.10" x2="287.40" y2="314.00" stroke="#333" stroke-width="0.7"/>
<line x1="298.00" y1="311.10" x2="298.00" y2="314.00" stroke="#333" stroke-width="0.7"/>
<line x1="308.50" y1="311.10" x2="308.50" y2="314.00" stroke="#333" stroke-width="0.7"/>
<text x="266.20" y="320.40" font-size="4.8" text-anchor="middle" fill="#000" font-weight="bold" >0</text>
<text x="276.90" y="320.40" font-size="4.8" text-anchor="middle" fill="#000" font-weight="bold" >1</text>
<text x="287.40" y="320.40" font-size="4.8" text-anchor="middle" fill="#000" font-weight="bold" >3</text>
<text x="298.00" y="320.40" font-size="4.8" text-anchor="middle" fill="#000" font-weight="bold" >10</text>
<text x="308.50" y="320.40" font-size="4.8" text-anchor="middle" fill="#000" font-weight="bold" >30</text>
<text x="262.90" y="331.40" font-size="6.6" text-anchor="start" fill="#000" font-weight="bold" textLength="49.40" lengthAdjust="spacingAndGlyphs" >STF118804 (nM)</text>
<polyline points="266.20,273.00 276.90,274.52 287.40,276.05 298.00,283.29 308.50,305.00" fill="none" stroke="#0000c8" stroke-width="1.6" stroke-linejoin="round"/>
<rect x="264.30" y="271.10" width="3.80" height="3.80" fill="#0000c8" />
<rect x="275.00" y="272.62" width="3.80" height="3.80" fill="#0000c8" />
<rect x="285.50" y="274.15" width="3.80" height="3.80" fill="#0000c8" />
<rect x="296.10" y="281.39" width="3.80" height="3.80" fill="#0000c8" />
<rect x="306.60" y="303.10" width="3.80" height="3.80" fill="#0000c8" />
<line x1="308.50" y1="283.74" x2="308.50" y2="288.94" stroke="#ff0000" stroke-width="0.6"/>
<line x1="306.50" y1="283.74" x2="310.50" y2="283.74" stroke="#ff0000" stroke-width="0.6"/>
<line x1="306.50" y1="288.94" x2="310.50" y2="288.94" stroke="#ff0000" stroke-width="0.6"/>
<polyline points="266.20,273.00 276.90,274.14 287.40,275.67 298.00,280.62 308.50,286.34" fill="none" stroke="#ff0000" stroke-width="1.6" stroke-linejoin="round"/>
<circle cx="266.20" cy="273.00" r="2.05" fill="#ff0000"/>
<circle cx="276.90" cy="274.14" r="2.05" fill="#ff0000"/>
<circle cx="287.40" cy="275.67" r="2.05" fill="#ff0000"/>
<circle cx="298.00" cy="280.62" r="2.05" fill="#ff0000"/>
<circle cx="308.50" cy="286.34" r="2.05" fill="#ff0000"/>
<text x="309.30" y="303.00" font-size="6.2" text-anchor="middle" fill="#111" >*</text>
<line x1="325.20" y1="253.65" x2="325.20" y2="311.40" stroke="#333" stroke-width="0.7"/>
<line x1="322.50" y1="311.10" x2="377.50" y2="311.10" stroke="#333" stroke-width="0.7"/>
<line x1="321.20" y1="311.10" x2="325.20" y2="311.10" stroke="#333" stroke-width="0.7"/>
<text x="320.00" y="312.80" font-size="4.7" text-anchor="end" fill="#000" font-weight="bold" >0</text>
<line x1="321.20" y1="292.05" x2="325.20" y2="292.05" stroke="#333" stroke-width="0.7"/>
<text x="320.00" y="293.75" font-size="4.7" text-anchor="end" fill="#000" font-weight="bold" >50</text>
<line x1="321.20" y1="273.00" x2="325.20" y2="273.00" stroke="#333" stroke-width="0.7"/>
<text x="320.00" y="274.70" font-size="4.7" text-anchor="end" fill="#000" font-weight="bold" >100</text>
<line x1="321.20" y1="253.95" x2="325.20" y2="253.95" stroke="#333" stroke-width="0.7"/>
<text x="320.00" y="255.65" font-size="4.7" text-anchor="end" fill="#000" font-weight="bold" >150</text>
<line x1="332.20" y1="311.10" x2="332.20" y2="314.00" stroke="#333" stroke-width="0.7"/>
<line x1="342.70" y1="311.10" x2="342.70" y2="314.00" stroke="#333" stroke-width="0.7"/>
<line x1="353.30" y1="311.10" x2="353.30" y2="314.00" stroke="#333" stroke-width="0.7"/>
<line x1="364.00" y1="311.10" x2="364.00" y2="314.00" stroke="#333" stroke-width="0.7"/>
<line x1="374.40" y1="311.10" x2="374.40" y2="314.00" stroke="#333" stroke-width="0.7"/>
<text x="332.20" y="320.40" font-size="4.8" text-anchor="middle" fill="#000" font-weight="bold" >0</text>
<text x="342.70" y="320.40" font-size="4.8" text-anchor="middle" fill="#000" font-weight="bold" >1</text>
<text x="353.30" y="320.40" font-size="4.8" text-anchor="middle" fill="#000" font-weight="bold" >3</text>
<text x="364.00" y="320.40" font-size="4.8" text-anchor="middle" fill="#000" font-weight="bold" >10</text>
<text x="374.40" y="320.40" font-size="4.8" text-anchor="middle" fill="#000" font-weight="bold" >30</text>
<text x="331.70" y="331.40" font-size="6.6" text-anchor="start" fill="#000" font-weight="bold" textLength="43.40" lengthAdjust="spacingAndGlyphs" >GNE-617 (nM)</text>
<polyline points="332.20,273.00 342.70,274.91 353.30,273.76 364.00,280.62 374.40,306.91" fill="none" stroke="#0000c8" stroke-width="1.6" stroke-linejoin="round"/>
<rect x="330.30" y="271.10" width="3.80" height="3.80" fill="#0000c8" />
<rect x="340.80" y="273.01" width="3.80" height="3.80" fill="#0000c8" />
<rect x="351.40" y="271.86" width="3.80" height="3.80" fill="#0000c8" />
<rect x="362.10" y="278.72" width="3.80" height="3.80" fill="#0000c8" />
<rect x="372.50" y="305.01" width="3.80" height="3.80" fill="#0000c8" />
<polyline points="332.20,273.00 342.70,274.14 353.30,273.00 364.00,276.81 374.40,284.43" fill="none" stroke="#ff0000" stroke-width="1.6" stroke-linejoin="round"/>
<circle cx="332.20" cy="273.00" r="2.05" fill="#ff0000"/>
<circle cx="342.70" cy="274.14" r="2.05" fill="#ff0000"/>
<circle cx="353.30" cy="273.00" r="2.05" fill="#ff0000"/>
<circle cx="364.00" cy="276.81" r="2.05" fill="#ff0000"/>
<circle cx="374.40" cy="284.43" r="2.05" fill="#ff0000"/>
<text x="376.70" y="304.40" font-size="6.2" text-anchor="middle" fill="#111" letter-spacing="0.5">**</text>
<line x1="390.70" y1="253.65" x2="390.70" y2="311.40" stroke="#333" stroke-width="0.7"/>
<line x1="388.30" y1="311.10" x2="446.50" y2="311.10" stroke="#333" stroke-width="0.7"/>
<line x1="386.70" y1="311.10" x2="390.70" y2="311.10" stroke="#333" stroke-width="0.7"/>
<text x="385.50" y="312.80" font-size="4.7" text-anchor="end" fill="#000" font-weight="bold" >0</text>
<line x1="386.70" y1="292.05" x2="390.70" y2="292.05" stroke="#333" stroke-width="0.7"/>
<text x="385.50" y="293.75" font-size="4.7" text-anchor="end" fill="#000" font-weight="bold" >50</text>
<line x1="386.70" y1="273.00" x2="390.70" y2="273.00" stroke="#333" stroke-width="0.7"/>
<text x="385.50" y="274.70" font-size="4.7" text-anchor="end" fill="#000" font-weight="bold" >100</text>
<line x1="386.70" y1="253.95" x2="390.70" y2="253.95" stroke="#333" stroke-width="0.7"/>
<text x="385.50" y="255.65" font-size="4.7" text-anchor="end" fill="#000" font-weight="bold" >150</text>
<line x1="397.80" y1="311.10" x2="397.80" y2="314.00" stroke="#333" stroke-width="0.7"/>
<line x1="408.20" y1="311.10" x2="408.20" y2="314.00" stroke="#333" stroke-width="0.7"/>
<line x1="418.90" y1="311.10" x2="418.90" y2="314.00" stroke="#333" stroke-width="0.7"/>
<line x1="429.60" y1="311.10" x2="429.60" y2="314.00" stroke="#333" stroke-width="0.7"/>
<line x1="440.00" y1="311.10" x2="440.00" y2="314.00" stroke="#333" stroke-width="0.7"/>
<text x="397.80" y="320.40" font-size="4.8" text-anchor="middle" fill="#000" font-weight="bold" >0</text>
<text x="408.20" y="320.40" font-size="4.8" text-anchor="middle" fill="#000" font-weight="bold" >1</text>
<text x="418.90" y="320.40" font-size="4.8" text-anchor="middle" fill="#000" font-weight="bold" >3</text>
<text x="429.60" y="320.40" font-size="4.8" text-anchor="middle" fill="#000" font-weight="bold" >10</text>
<text x="440.00" y="320.40" font-size="4.8" text-anchor="middle" fill="#000" font-weight="bold" >30</text>
<text x="397.60" y="331.40" font-size="6.6" text-anchor="start" fill="#000" font-weight="bold" textLength="43.10" lengthAdjust="spacingAndGlyphs" >CHS-828 (nM)</text>
<polyline points="397.80,273.00 408.20,276.05 418.90,306.91 429.60,310.80 440.00,310.80" fill="none" stroke="#0000c8" stroke-width="1.6" stroke-linejoin="round"/>
<rect x="395.90" y="271.10" width="3.80" height="3.80" fill="#0000c8" />
<rect x="406.30" y="274.15" width="3.80" height="3.80" fill="#0000c8" />
<rect x="417.00" y="305.01" width="3.80" height="3.80" fill="#0000c8" />
<rect x="427.70" y="308.90" width="3.80" height="3.80" fill="#0000c8" />
<rect x="438.10" y="308.90" width="3.80" height="3.80" fill="#0000c8" />
<line x1="418.90" y1="279.76" x2="418.90" y2="283.76" stroke="#ff0000" stroke-width="0.6"/>
<line x1="416.90" y1="279.76" x2="420.90" y2="279.76" stroke="#ff0000" stroke-width="0.6"/>
<line x1="416.90" y1="283.76" x2="420.90" y2="283.76" stroke="#ff0000" stroke-width="0.6"/>
<line x1="429.60" y1="289.23" x2="429.60" y2="291.83" stroke="#ff0000" stroke-width="0.6"/>
<line x1="427.60" y1="289.23" x2="431.60" y2="289.23" stroke="#ff0000" stroke-width="0.6"/>
<line x1="427.60" y1="291.83" x2="431.60" y2="291.83" stroke="#ff0000" stroke-width="0.6"/>
<polyline points="397.80,273.00 408.20,273.00 418.90,281.76 429.60,290.53 440.00,289.95" fill="none" stroke="#ff0000" stroke-width="1.6" stroke-linejoin="round"/>
<circle cx="397.80" cy="273.00" r="2.05" fill="#ff0000"/>
<circle cx="408.20" cy="273.00" r="2.05" fill="#ff0000"/>
<circle cx="418.90" cy="281.76" r="2.05" fill="#ff0000"/>
<circle cx="429.60" cy="290.53" r="2.05" fill="#ff0000"/>
<circle cx="440.00" cy="289.95" r="2.05" fill="#ff0000"/>
<text x="421.90" y="305.60" font-size="6.2" text-anchor="middle" fill="#111" letter-spacing="0.5">**</text>
<text x="430.40" y="309.20" font-size="6.2" text-anchor="middle" fill="#111" letter-spacing="0.5">**</text>
<text x="440.40" y="309.20" font-size="6.2" text-anchor="middle" fill="#111" letter-spacing="0.5">***</text>
<line x1="423.90" y1="256.60" x2="433.40" y2="256.60" stroke="#ff0000" stroke-width="1.5"/>
<circle cx="428.7" cy="256.6" r="2.0" fill="#ff0000"/>
<line x1="423.90" y1="265.10" x2="433.40" y2="265.10" stroke="#0000c8" stroke-width="1.5"/>
<rect x="426.90" y="263.30" width="3.60" height="3.60" fill="#0000c8" />
<text x="439.00" y="258.50" font-size="5" text-anchor="start" fill="#000" font-weight="bold" textLength="20.90" lengthAdjust="spacingAndGlyphs" >pLV CTR</text>
<text x="439.00" y="267.00" font-size="5" text-anchor="start" fill="#000" font-weight="bold" textLength="30.60" lengthAdjust="spacingAndGlyphs" >pLV CD56 OE</text>
<line x1="473.90" y1="156.20" x2="473.90" y2="220.40" stroke="#111" stroke-width="1.1"/>
<line x1="471.20" y1="220.10" x2="516.90" y2="220.10" stroke="#111" stroke-width="1.1"/>
<line x1="471.30" y1="220.10" x2="473.90" y2="220.10" stroke="#111" stroke-width="1.1"/>
<text x="471.00" y="221.83" font-size="4.8" text-anchor="end" fill="#000" font-weight="bold" >0.0</text>
<line x1="471.30" y1="204.20" x2="473.90" y2="204.20" stroke="#111" stroke-width="1.1"/>
<text x="471.00" y="205.93" font-size="4.8" text-anchor="end" fill="#000" font-weight="bold" >0.5</text>
<line x1="471.30" y1="188.30" x2="473.90" y2="188.30" stroke="#111" stroke-width="1.1"/>
<text x="471.00" y="190.03" font-size="4.8" text-anchor="end" fill="#000" font-weight="bold" >1.0</text>
<line x1="471.30" y1="172.40" x2="473.90" y2="172.40" stroke="#111" stroke-width="1.1"/>
<text x="471.00" y="174.13" font-size="4.8" text-anchor="end" fill="#000" font-weight="bold" >1.5</text>
<line x1="471.30" y1="156.50" x2="473.90" y2="156.50" stroke="#111" stroke-width="1.1"/>
<text x="471.00" y="158.23" font-size="4.8" text-anchor="end" fill="#000" font-weight="bold" >2.0</text>
<line x1="485.95" y1="175.90" x2="485.95" y2="173.90" stroke="#222" stroke-width="0.6"/>
<line x1="482.92" y1="173.90" x2="488.98" y2="173.90" stroke="#222" stroke-width="0.6"/>
<rect x="479.90" y="175.90" width="12.10" height="44.20" fill="#000080" stroke="#000" stroke-width="0.4" />
<line x1="504.25" y1="196.57" x2="504.25" y2="195.67" stroke="#222" stroke-width="0.6"/>
<line x1="501.32" y1="195.67" x2="507.18" y2="195.67" stroke="#222" stroke-width="0.6"/>
<rect x="498.40" y="196.57" width="11.70" height="23.53" fill="#ff0000" stroke="#222" stroke-width="0.4" />
<polyline points="486.30,171.80 486.30,169.20 504.40,169.20 504.40,194.40" fill="none" stroke="#222" stroke-width="0.75"/>
<text x="495.00" y="170.40" font-size="5.0" text-anchor="middle" fill="#222" letter-spacing="0.3">****</text>
<rect x="476.10" y="156.40" width="3.10" height="3.30" fill="#000080" />
<text x="479.60" y="159.50" font-size="3.9" text-anchor="start" fill="#000" textLength="16.40" lengthAdjust="spacingAndGlyphs" >scramble</text>
<rect x="498.20" y="156.40" width="3.10" height="3.30" fill="#ff0000" />
<text x="502.00" y="159.50" font-size="3.9" text-anchor="start" fill="#000" textLength="17.50" lengthAdjust="spacingAndGlyphs" >shCD38#3</text>
<text x="458.30" y="188.00" font-size="5.8" font-weight="bold" text-anchor="middle" textLength="66" lengthAdjust="spacingAndGlyphs" transform="rotate(-90 458.30 188.00)">CD38 mRNA levels (2<tspan dy="-2" font-size="3.48">-ΔΔCt</tspan><tspan dy="2">)</tspan></text>
<line x1="569.70" y1="155.00" x2="569.70" y2="219.00" stroke="#111" stroke-width="1.1"/>
<line x1="567.50" y1="218.70" x2="612.30" y2="218.70" stroke="#111" stroke-width="1.1"/>
<line x1="567.30" y1="218.70" x2="569.70" y2="218.70" stroke="#111" stroke-width="1.1"/>
<text x="566.80" y="220.61" font-size="5.3" text-anchor="end" fill="#000" font-weight="bold" >0</text>
<line x1="567.30" y1="202.85" x2="569.70" y2="202.85" stroke="#111" stroke-width="1.1"/>
<text x="566.80" y="204.76" font-size="5.3" text-anchor="end" fill="#000" font-weight="bold" >1</text>
<line x1="567.30" y1="187.00" x2="569.70" y2="187.00" stroke="#111" stroke-width="1.1"/>
<text x="566.80" y="188.91" font-size="5.3" text-anchor="end" fill="#000" font-weight="bold" >2</text>
<line x1="567.30" y1="171.15" x2="569.70" y2="171.15" stroke="#111" stroke-width="1.1"/>
<text x="566.80" y="173.06" font-size="5.3" text-anchor="end" fill="#000" font-weight="bold" >3</text>
<line x1="567.30" y1="155.30" x2="569.70" y2="155.30" stroke="#111" stroke-width="1.1"/>
<text x="566.80" y="157.21" font-size="5.3" text-anchor="end" fill="#000" font-weight="bold" >4</text>
<line x1="581.50" y1="202.85" x2="581.50" y2="199.15" stroke="#222" stroke-width="0.6"/>
<line x1="578.45" y1="199.15" x2="584.55" y2="199.15" stroke="#222" stroke-width="0.6"/>
<rect x="575.40" y="202.85" width="12.20" height="15.85" fill="#ff0000" stroke="#222" stroke-width="0.4" />
<line x1="600.25" y1="178.44" x2="600.25" y2="172.94" stroke="#222" stroke-width="0.6"/>
<line x1="597.23" y1="172.94" x2="603.27" y2="172.94" stroke="#222" stroke-width="0.6"/>
<rect x="594.20" y="178.44" width="12.10" height="40.26" fill="#ffdde0" stroke="#333" stroke-width="0.4" />
<polyline points="581.40,196.90 581.40,167.00 600.20,167.00 600.20,170.30" fill="none" stroke="#222" stroke-width="0.75"/>
<text x="590.90" y="168.00" font-size="5.0" text-anchor="middle" fill="#222" letter-spacing="0.3">**</text>
<rect x="572.00" y="155.10" width="3.30" height="3.50" fill="#ff0000" stroke="#222" stroke-width="0.3" />
<text x="577.00" y="158.10" font-size="3.9" text-anchor="start" fill="#000" textLength="6.20" lengthAdjust="spacingAndGlyphs" >CTR</text>
<rect x="587.10" y="155.10" width="3.50" height="3.50" fill="#ffdde0" stroke="#222" stroke-width="0.35" />
<text x="592.90" y="158.10" font-size="3.9" text-anchor="start" fill="#000" textLength="12.30" lengthAdjust="spacingAndGlyphs" >CD56OE</text>
<text x="553.30" y="186.50" font-size="5.6" font-weight="bold" text-anchor="middle" textLength="50" lengthAdjust="spacingAndGlyphs" transform="rotate(-90 553.30 186.50)">CD56 mRNA (2<tspan dy="-2" font-size="3.36">-ΔΔCt</tspan><tspan dy="2">)</tspan></text>
<line x1="638.40" y1="154.95" x2="638.40" y2="219.00" stroke="#111" stroke-width="1.1"/>
<line x1="636.20" y1="218.70" x2="681.90" y2="218.70" stroke="#111" stroke-width="1.1"/>
<line x1="636.00" y1="218.70" x2="638.40" y2="218.70" stroke="#111" stroke-width="1.1"/>
<text x="635.50" y="220.61" font-size="5.3" text-anchor="end" fill="#000" font-weight="bold" >0.0</text>
<line x1="636.00" y1="197.55" x2="638.40" y2="197.55" stroke="#111" stroke-width="1.1"/>
<text x="635.50" y="199.46" font-size="5.3" text-anchor="end" fill="#000" font-weight="bold" >0.5</text>
<line x1="636.00" y1="176.40" x2="638.40" y2="176.40" stroke="#111" stroke-width="1.1"/>
<text x="635.50" y="178.31" font-size="5.3" text-anchor="end" fill="#000" font-weight="bold" >1.0</text>
<line x1="636.00" y1="155.25" x2="638.40" y2="155.25" stroke="#111" stroke-width="1.1"/>
<text x="635.50" y="157.16" font-size="5.3" text-anchor="end" fill="#000" font-weight="bold" >1.5</text>
<line x1="650.20" y1="176.40" x2="650.20" y2="173.10" stroke="#222" stroke-width="0.6"/>
<line x1="646.70" y1="173.10" x2="653.70" y2="173.10" stroke="#222" stroke-width="0.6"/>
<rect x="643.20" y="176.40" width="14.00" height="42.30" fill="#ff0000" stroke="#222" stroke-width="0.4" />
<line x1="669.75" y1="203.47" x2="669.75" y2="202.47" stroke="#222" stroke-width="0.6"/>
<line x1="666.77" y1="202.47" x2="672.73" y2="202.47" stroke="#222" stroke-width="0.6"/>
<rect x="663.80" y="203.47" width="11.90" height="15.23" fill="#ffdcb4" stroke="#333" stroke-width="0.4" />
<polyline points="651.40,171.40 651.40,167.70 669.70,167.70 669.70,201.30" fill="none" stroke="#222" stroke-width="0.75"/>
<text x="660.40" y="168.40" font-size="5.0" text-anchor="middle" fill="#222" letter-spacing="0.3">***</text>
<rect x="640.60" y="155.10" width="3.30" height="3.50" fill="#ff0000" stroke="#222" stroke-width="0.3" />
<text x="646.10" y="158.10" font-size="3.9" text-anchor="start" fill="#000" textLength="6.00" lengthAdjust="spacingAndGlyphs" >SCR</text>
<rect x="654.50" y="155.10" width="3.30" height="3.50" fill="#ffdcb4" stroke="#222" stroke-width="0.35" />
<text x="659.80" y="158.10" font-size="3.9" text-anchor="start" fill="#000" textLength="25.00" lengthAdjust="spacingAndGlyphs" >CD56 shRNA#2</text>
<text x="621.80" y="186.50" font-size="5.6" font-weight="bold" text-anchor="middle" textLength="50" lengthAdjust="spacingAndGlyphs" transform="rotate(-90 621.80 186.50)">CD56 mRNA (2<tspan dy="-2" font-size="3.36">-ΔΔCt</tspan><tspan dy="2">)</tspan></text>
<text x="521.50" y="253.00" font-size="6.15" text-anchor="start" fill="#000" font-weight="bold" textLength="76.60" lengthAdjust="spacingAndGlyphs" >Intracellular NAD+ dosage</text>
<line x1="531.50" y1="265.50" x2="531.50" y2="350.70" stroke="#111" stroke-width="0.9"/>
<line x1="528.30" y1="350.40" x2="587.60" y2="350.40" stroke="#111" stroke-width="0.9"/>
<line x1="528.50" y1="350.40" x2="531.50" y2="350.40" stroke="#111" stroke-width="0.9"/>
<text x="528.00" y="352.34" font-size="5.4" text-anchor="end" fill="#000" font-weight="bold" >0</text>
<line x1="528.50" y1="322.20" x2="531.50" y2="322.20" stroke="#111" stroke-width="0.9"/>
<text x="528.00" y="324.14" font-size="5.4" text-anchor="end" fill="#000" font-weight="bold" >5</text>
<line x1="528.50" y1="294.00" x2="531.50" y2="294.00" stroke="#111" stroke-width="0.9"/>
<text x="528.00" y="295.94" font-size="5.4" text-anchor="end" fill="#000" font-weight="bold" >10</text>
<line x1="528.50" y1="265.80" x2="531.50" y2="265.80" stroke="#111" stroke-width="0.9"/>
<text x="528.00" y="267.74" font-size="5.4" text-anchor="end" fill="#000" font-weight="bold" >15</text>
<line x1="540.25" y1="293.72" x2="540.25" y2="286.62" stroke="#222" stroke-width="0.6"/>
<line x1="538.02" y1="286.62" x2="542.48" y2="286.62" stroke="#222" stroke-width="0.6"/>
<rect x="535.80" y="293.72" width="8.90" height="56.68" fill="#000" stroke="#333" stroke-width="0.4" />
<line x1="553.45" y1="275.95" x2="553.45" y2="270.75" stroke="#222" stroke-width="0.6"/>
<line x1="551.23" y1="270.75" x2="555.68" y2="270.75" stroke="#222" stroke-width="0.6"/>
<rect x="549.00" y="275.95" width="8.90" height="74.45" fill="#0000c8" stroke="#333" stroke-width="0.4" />
<line x1="566.40" y1="283.57" x2="566.40" y2="282.17" stroke="#222" stroke-width="0.6"/>
<line x1="564.20" y1="282.17" x2="568.60" y2="282.17" stroke="#222" stroke-width="0.6"/>
<rect x="562.00" y="283.57" width="8.80" height="66.83" fill="#808080" stroke="#333" stroke-width="0.4" />
<line x1="579.30" y1="302.74" x2="579.30" y2="298.74" stroke="#222" stroke-width="0.6"/>
<line x1="577.05" y1="298.74" x2="581.55" y2="298.74" stroke="#222" stroke-width="0.6"/>
<rect x="574.80" y="302.74" width="9.00" height="47.66" fill="#ff0000" stroke="#333" stroke-width="0.4" />
<line x1="540.00" y1="264.50" x2="553.50" y2="264.50" stroke="#333" stroke-width="0.5"/>
<text x="546.95" y="265.10" font-size="5" text-anchor="middle" fill="#111" letter-spacing="0.4">*</text>
<line x1="566.40" y1="274.20" x2="579.50" y2="274.20" stroke="#333" stroke-width="0.5"/>
<text x="573.15" y="274.50" font-size="5" text-anchor="middle" fill="#111" letter-spacing="0.4">**</text>
<text x="513.40" y="306.00" font-size="5.7" text-anchor="middle" fill="#000" font-weight="bold" textLength="37.80" lengthAdjust="spacingAndGlyphs" transform="rotate(-90 513.40 306.00)" >NAD nmol/mg</text>
<rect x="607.80" y="263.00" width="8.60" height="3.00" fill="#000" stroke="#222" stroke-width="0.3" />
<text x="621.50" y="266.40" font-size="5.9" text-anchor="start" fill="#000" textLength="24.30" lengthAdjust="spacingAndGlyphs" >scramble</text>
<rect x="607.80" y="270.70" width="8.60" height="3.00" fill="#0000c8" stroke="#222" stroke-width="0.3" />
<text x="621.50" y="274.10" font-size="5.9" text-anchor="start" fill="#000" textLength="42.10" lengthAdjust="spacingAndGlyphs" >CD56 shRNA#2</text>
<rect x="607.80" y="278.40" width="8.60" height="3.00" fill="#808080" stroke="#222" stroke-width="0.3" />
<text x="621.50" y="281.80" font-size="5.9" text-anchor="start" fill="#000" textLength="34.90" lengthAdjust="spacingAndGlyphs" >empty vector</text>
<rect x="607.80" y="286.10" width="8.60" height="3.00" fill="#ff0000" stroke="#222" stroke-width="0.3" />
<text x="621.50" y="289.50" font-size="5.9" text-anchor="start" fill="#000" textLength="23.50" lengthAdjust="spacingAndGlyphs" >CD56OE</text>
</svg></body></html>
